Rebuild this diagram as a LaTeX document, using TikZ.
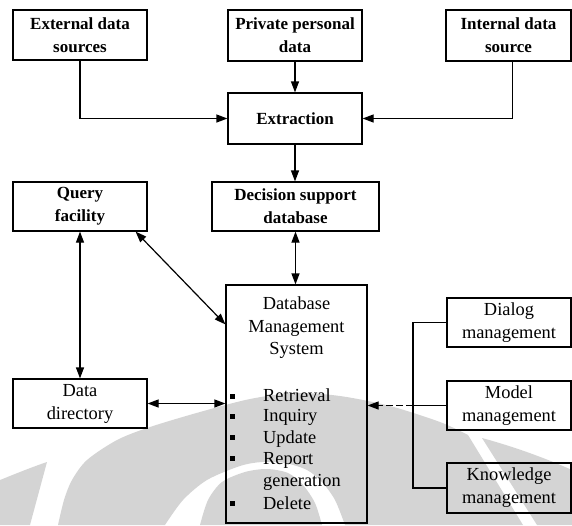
\documentclass[tikz,border=0pt]{standalone}
\usepackage{fontspec}
\setmainfont{Liberation Serif}
\usetikzlibrary{arrows.meta}
\definecolor{markgray}{RGB}{212,212,212}
\begin{document}
\begin{tikzpicture}[x=1pt,y=-1pt,
  box/.style={draw, line width=1.2pt, inner sep=0pt, align=center},
  head/.style={font=\fontsize{17}{23}\selectfont\bfseries},
  body/.style={font=\fontsize{18.4}{23}\selectfont},
  item/.style={font=\fontsize{18.4}{22}\selectfont, anchor=west, inner sep=0pt,
               text height=13pt, text depth=4pt},
  bullet/.style={fill, minimum size=5pt, inner sep=0pt},
  link/.style={line width=1.2pt},
  tip/.style={-{Triangle[length=11pt,width=8pt]}},
  both/.style={{Triangle[length=11pt,width=8pt]}-{Triangle[length=11pt,width=8pt]}},
  dashlink/.style={line width=1.2pt, dash pattern=on 7pt off 3pt}
]
\useasboundingbox (0,0) rectangle (572,525);

% light grey logo in the background
\fill[markgray] (0,480) .. controls (15,474) and (32,467) .. (47,462) -- (30,525) -- (0,525) -- cycle;
\fill[markgray] plot[smooth] coordinates {(58,525) (64,500) (72,480) (87,460) (117,440) (150,427) (200,412) (250,399) (295,393) (340,396) (390,406) (440,422) (468,435)}
  -- (523,525) -- (345,525)
  -- plot[smooth] coordinates {(345,525) (335,500) (322,482) (307,470) (285,463) (262,462) (240,466) (207,480) (183,500) (165,525)} -- cycle;
\fill[markgray] plot[smooth] coordinates {(200,525) (208,500) (222,482) (245,472) (267,469) (288,473) (303,485) (315,503) (322,525)} -- cycle;
\fill[markgray] (482,438) .. controls (515,447) and (545,458) .. (572,470) -- (572,525) -- (537,525) -- cycle;

% data sources and extraction
\node[box, head, minimum width=134pt, minimum height=50pt] (ext) at (80,35) {External data\\sources};
\node[box, head, minimum width=134pt, minimum height=51pt] (priv) at (295,35.5) {Private personal\\data};
\node[box, head, minimum width=125pt, minimum height=51pt] (int) at (508.5,35.5) {Internal data\\source};
\node[box, head, minimum width=134pt, minimum height=51pt] (extr) at (295,118.5) {Extraction};
\node[box, head, minimum width=167pt, minimum height=49pt] (dsd) at (295.5,206.5) {Decision support\\database};
\node[box, head, minimum width=134pt, minimum height=49pt] (query) at (80,206.5) {Query\\facility};

% database management system
\node[box, minimum width=141pt, minimum height=238pt] (dbms) at (296.5,404) {};
\node[font=\fontsize{18.4}{22.5}\selectfont, align=center, inner sep=0pt] (dbmstitle) at (296.5,328) {Database\\Management\\System};
\node[bullet] (b1) at (232,396) {};
\node[bullet] (b2) at (232,416) {};
\node[bullet] (b3) at (232,437) {};
\node[bullet] (b4) at (232,458) {};
\node[bullet] (b5) at (232,503) {};
\node[item] (i1) at (263,397) {Retrieval};
\node[item] (i2) at (263,417) {Inquiry};
\node[item] (i3) at (263,439) {Update};
\node[item] (i4) at (263,460) {Report};
\node[item] (i4b) at (263,482) {generation};
\node[item] (i5) at (263,505) {Delete};

\node[box, body, minimum width=134pt, minimum height=49pt] (dd) at (80,403.5) {Data\\directory};

% management subsystems
\node[box, body, minimum width=124pt, minimum height=49pt] (dialog) at (509,322.5) {Dialog\\management};
\node[box, body, minimum width=124pt, minimum height=49pt] (model) at (509,405.5) {Model\\management};
\node[box, body, minimum width=124pt, minimum height=50pt] (know) at (509,488) {Knowledge\\management};

% connectors
\draw[link, tip] (ext.south) |- (extr.west);
\draw[link, tip] ([xshift=4pt]int.south) |- (extr.east);
\draw[link, tip] (priv.south) -- (priv.south |- extr.north);
\draw[link, tip] (extr.south) -- (extr.south |- dsd.north);
\draw[link, both] (dsd.south) -- (dsd.south |- dbms.north);
\draw[link, both] ([xshift=-12pt]query.south east) -- ([yshift=-40pt]dbms.north west);
\draw[link, both] (query.south) -- (dd.north);
\draw[link, both] (dd.east) -- (dbms.west |- dd.east);

\coordinate (busT) at (413,322.5);
\coordinate (busM) at (413,405.5);
\coordinate (busB) at (413,488);
\draw[link] (dialog.west) -- (busT) -- (busB) -- (know.west);
\draw[link] (model.west) -- (busM);
\draw[dashlink, tip] (busM) -- (dbms.east |- busM);
\end{tikzpicture}
\end{document}
